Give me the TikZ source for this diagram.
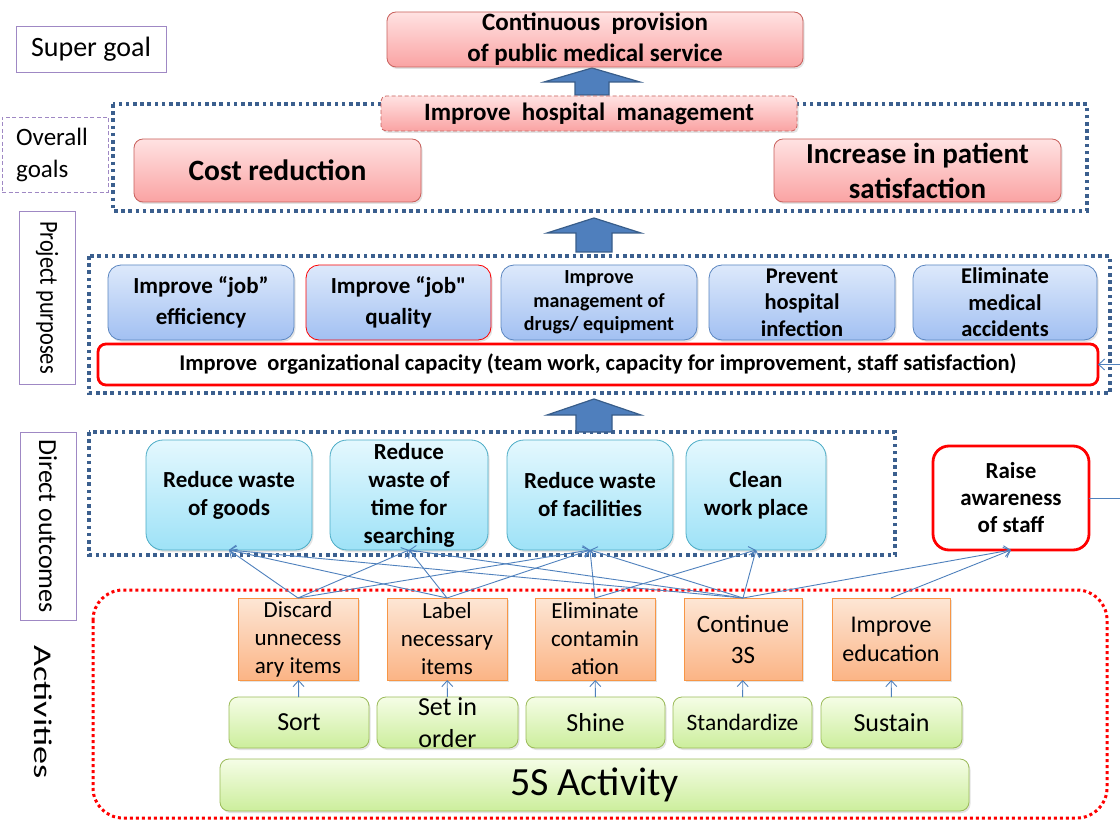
\documentclass[tikz,border=0pt]{standalone}
\usepackage{fontspec}
\setmainfont{Carlito}
\usetikzlibrary{arrows.meta,shadows}

\definecolor{framblue}{HTML}{3B5F8E}
\definecolor{arrowfill}{HTML}{4F7FBD}
\definecolor{arrowline}{HTML}{385D8A}
\definecolor{linkblue}{HTML}{4F81BD}
\definecolor{labelline}{HTML}{9F88C4}
\definecolor{pinktop}{HTML}{FFE2E2}
\definecolor{pinkbot}{HTML}{FAA3A3}
\definecolor{pinkline}{HTML}{C8605C}
\definecolor{bluetop}{HTML}{DDE9FB}
\definecolor{bluebot}{HTML}{A2C0F2}
\definecolor{blueline}{HTML}{5B86C0}
\definecolor{cyantop}{HTML}{E4F8FE}
\definecolor{cyanbot}{HTML}{9EE2F7}
\definecolor{cyanline}{HTML}{4BACC6}
\definecolor{orangetop}{HTML}{FDE6D5}
\definecolor{orangebot}{HTML}{FBB485}
\definecolor{orangeline}{HTML}{F79646}
\definecolor{greentop}{HTML}{F5FDE6}
\definecolor{greenbot}{HTML}{CCEE9C}
\definecolor{greenline}{HTML}{9BBB59}

\tikzset{
  boxbase/.style={align=center, inner sep=0pt, outer sep=0pt,
    drop shadow={opacity=0.22, shadow xshift=1.5pt, shadow yshift=-2pt}},
  levellabel/.style={draw=labelline, line width=0.9pt, align=center,
    inner sep=0pt, outer sep=0pt, fill=white},
  pinkbox/.style={boxbase, rounded corners=9pt, draw=pinkline, line width=0.8pt,
    top color=pinktop, bottom color=pinkbot},
  purposebox/.style={boxbase, rounded corners=13pt, draw=blueline, line width=0.8pt,
    top color=bluetop, bottom color=bluebot, minimum height=75pt},
  outcomebox/.style={boxbase, rounded corners=17pt, draw=cyanline, line width=0.8pt,
    top color=cyantop, bottom color=cyanbot, minimum height=110pt,
    font=\bfseries\fontsize{23}{28}\selectfont},
  redbox/.style={align=center, inner sep=0pt, outer sep=0pt, draw=red,
    line width=2.8pt, fill=white},
  actionbox/.style={boxbase, draw=orangeline, line width=0.8pt,
    top color=orangetop, bottom color=orangebot, minimum height=82pt,
    font=\fontsize{23}{28}\selectfont},
  sbox/.style={boxbase, rounded corners=9pt, draw=greenline, line width=0.8pt,
    top color=greentop, bottom color=greenbot, minimum height=51pt},
  bluedot/.style={draw=framblue, line width=3.6pt, dash pattern=on 3.6pt off 3.6pt},
  reddot/.style={draw=red, line width=3pt, dash pattern=on 3pt off 3pt},
  blockarrow/.style={fill=arrowfill, draw=arrowline, line width=1.2pt, line join=miter},
  link/.style={draw=linkblue, line width=0.9pt,
    -{Straight Barb[length=6pt, width=11pt, line width=0.9pt]}},
}

\begin{document}
\begin{tikzpicture}[x=1pt, y=-1pt]
\useasboundingbox (0,0) rectangle (1120,821);
\fill[white] (0,0) rectangle (1120,821);

% dotted level frames
\draw[bluedot] (113,104) rectangle (1087,211);
\draw[bluedot] (89,256) rectangle (1110,393);
\draw[bluedot] (89,432) rectangle (895,555);
\draw[reddot, rounded corners=30pt] (93,590) rectangle (1107,818);

% level labels
\node[levellabel, minimum width=150pt, minimum height=46pt,
  font=\fontsize{28}{32}\selectfont] (lsuper) at (91,49) {Super goal};
\node[levellabel, dashed, dash pattern=on 4pt off 2.5pt, minimum width=106pt,
  minimum height=75pt, align=left, font=\fontsize{25}{32}\selectfont]
  (loverall) at (55,154.5) {Overall\hspace*{6pt}\\goals};
\node[levellabel, rotate=-90, minimum width=173pt, minimum height=56pt,
  font=\fontsize{26}{30}\selectfont] (lproject) at (47,297.5)
  {\scalebox{0.86}[1]{Project purposes}};
\node[levellabel, rotate=-90, minimum width=188pt, minimum height=56pt,
  font=\fontsize{26}{30}\selectfont] (ldirect) at (48,526) {Direct outcomes};
\node[rotate=-90, inner sep=0pt, font=\fontsize{25.5}{30}\selectfont]
  (lactivities) at (43,712) {\scalebox{1.42}[1]{Activities}};

% block arrows between levels
\draw[blockarrow] (575,95) -- (575,82) -- (544,82) -- (592,68) -- (640,82)
  -- (609,82) -- (609,95) -- cycle;
\draw[blockarrow] (576,252) -- (576,233) -- (547,233) -- (594,218) -- (641,233)
  -- (612,233) -- (612,252) -- cycle;
\draw[blockarrow] (576,432) -- (576,415) -- (547,415) -- (594,399) -- (641,415)
  -- (612,415) -- (612,432) -- cycle;

% super goal and overall goals
\node[pinkbox, minimum width=416pt, minimum height=55pt,
  font=\bfseries\fontsize{25}{31}\selectfont] (super) at (595,39.5)
  {Continuous\ \ provision\\of public medical service};
\node[pinkbox, rounded corners=5pt, dashed, dash pattern=on 4pt off 2.5pt,
  minimum width=416pt, minimum height=35pt,
  font=\bfseries\fontsize{25}{28}\selectfont] (hospital) at (589,113.5)
  {Improve\ \ hospital\ \ management};
\node[pinkbox, minimum width=287pt, minimum height=63pt,
  font=\bfseries\fontsize{29.5}{34}\selectfont] (cost) at (277.5,170.5)
  {Cost reduction};
\node[pinkbox, minimum width=287pt, minimum height=63pt,
  font=\bfseries\fontsize{29}{35}\selectfont] (patient) at (917.5,170.5)
  {Increase in patient\\satisfaction};

% project purposes
\node[purposebox, minimum width=186pt, font=\bfseries\fontsize{23}{31}\selectfont]
  (p1) at (201,302.5) {Improve “job”\\efficiency};
\node[purposebox, draw=red, minimum width=185pt,
  font=\bfseries\fontsize{23}{31}\selectfont]
  (p2) at (398.5,302.5) {Improve “job\textquotedbl\\quality};
\node[purposebox, minimum width=196pt, font=\bfseries\fontsize{20}{23.5}\selectfont]
  (p3) at (599,302.5) {Improve\\management of\\drugs/ equipment};
\node[purposebox, minimum width=186pt, font=\bfseries\fontsize{22.5}{26.5}\selectfont]
  (p4) at (802,302.5) {Prevent\\hospital\\infection};
\node[purposebox, minimum width=184pt, font=\bfseries\fontsize{22.5}{26.5}\selectfont]
  (p5) at (1005,302.5) {Eliminate\\medical\\accidents};
\node[redbox, rounded corners=8pt, minimum width=1000pt, minimum height=41pt,
  font=\bfseries\fontsize{22.5}{26}\selectfont] (org) at (598,364.5)
  {Improve\ \ organizational capacity (team work, capacity for improvement, staff satisfaction)};

% direct outcomes
\node[outcomebox, minimum width=166pt] (c1) at (229,495) {Reduce waste\\of goods};
\node[outcomebox, minimum width=158pt] (c2) at (409,495)
  {Reduce\\waste of\\time for\\searching};
\node[outcomebox, minimum width=166pt] (c3) at (590,495) {Reduce waste\\of facilities};
\node[outcomebox, minimum width=140pt] (c4) at (756,495) {Clean\\work place};
\node[redbox, rounded corners=16pt, minimum width=156pt, minimum height=104pt,
  font=\bfseries\fontsize{23}{27}\selectfont] (raise) at (1011,498)
  {Raise\\awareness\\of staff};

% activities
\node[actionbox, minimum width=120pt] (o1) at (298,639) {Discard\\unnecess\\ary items};
\node[actionbox, minimum width=120pt] (o2) at (447,639) {Label\\necessary\\items};
\node[actionbox, minimum width=120pt] (o3) at (595,639) {Eliminate\\contamin\\ation};
\node[actionbox, minimum width=118pt, font=\fontsize{25}{31}\selectfont]
  (o4) at (743,639) {Continue\\3S};
\node[actionbox, minimum width=118pt, font=\fontsize{24}{29}\selectfont]
  (o5) at (891,639) {Improve\\education};

\node[sbox, minimum width=140pt, font=\fontsize{26}{30}\selectfont]
  (g1) at (299,722.5) {Sort};
\node[sbox, minimum width=141pt, font=\fontsize{26}{32}\selectfont]
  (g2) at (447.5,722.5) {Set in\\order};
\node[sbox, minimum width=139pt, font=\fontsize{26}{30}\selectfont]
  (g3) at (595.5,722.5) {Shine};
\node[sbox, minimum width=139pt, font=\fontsize{23.5}{28}\selectfont]
  (g4) at (742.5,722.5) {Standardize};
\node[sbox, minimum width=141pt, font=\fontsize{26}{30}\selectfont]
  (g5) at (891.5,722.5) {Sustain};
\node[sbox, minimum width=749pt, minimum height=52pt,
  font=\fontsize{40}{46}\selectfont] (five) at (594.5,785) {5S Activity};

% 5S steps to their activities
\draw[link] (g1) -- (o1);
\draw[link] (g2) -- (o2);
\draw[link] (g3) -- (o3);
\draw[link] (g4) -- (o4);
\draw[link] (g5) -- (o5);

% activities to direct outcomes
\draw[link] (o1.north) -- (c1.south);
\draw[link] (o1.north) -- (c2.south);
\draw[link] (o1.north) -- (c3.south);
\draw[link] (o2.north) -- (c1.south);
\draw[link] (o2.north) -- (c2.south);
\draw[link] (o2.north) -- (c3.south);
\draw[link] (o3.north) -- (c3.south);
\draw[link] (o3.north) -- (c4.south);
\draw[link] (o4.north) -- (c1.south);
\draw[link] (o4.north) -- (c2.south);
\draw[link] (o4.north) -- (c3.south);
\draw[link] (o4.north) -- (c4.south);
\draw[link] (o4.north) -- (raise.south);
\draw[link] (o5.north) -- (raise.south);

% staff awareness feeds organizational capacity
\begin{scope}
  \clip (0,0) rectangle (1120,821);
  \draw[link] (raise.east) -- (1140,498) -- (1140,364.5) -- (org.east);
\end{scope}
\end{tikzpicture}
\end{document}
